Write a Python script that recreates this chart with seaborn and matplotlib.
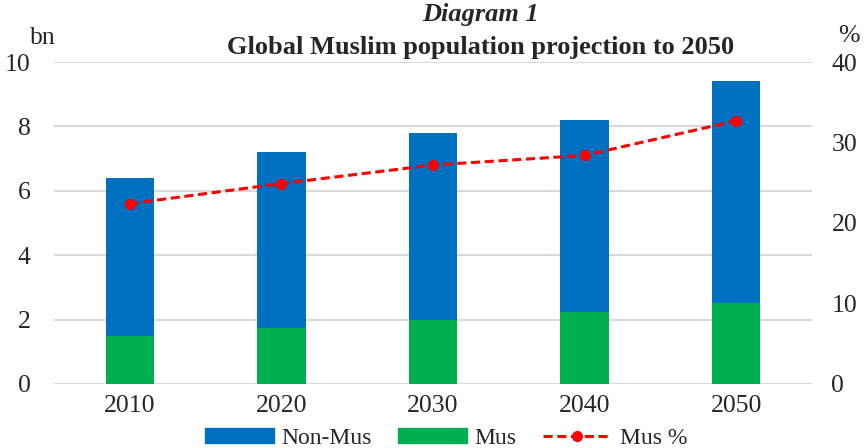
import pandas as pd
import matplotlib
matplotlib.use("Agg")
import matplotlib.pyplot as plt
import seaborn as sns
from matplotlib.patches import Patch
from matplotlib.lines import Line2D

# --- Data ---
years = ["2010", "2020", "2030", "2040", "2050"]
total_bn = [6.4, 7.2, 7.8, 8.2, 9.4]
mus_bn = [1.5, 1.75, 2.0, 2.25, 2.5]
mus_pct = [22.4, 24.9, 27.2, 28.4, 32.7]

BLUE = "#0070C0"
GREEN = "#00B050"
RED = "#FF0000"
GRID = "#D9D9D9"

sns.set_style("white")
plt.rcParams["font.family"] = ["Liberation Serif", "DejaVu Serif"]

df = pd.DataFrame({"year": years, "total": total_bn, "mus": mus_bn, "pct": mus_pct})

fig = plt.figure(figsize=(8.66, 4.48), dpi=100)
ax = fig.add_axes([0.0624, 0.1429, 0.8752, 0.7187])

# stacked look: total bar (blue) with Muslim share (green) drawn on top
sns.barplot(data=df, x="year", y="total", color=BLUE, width=0.32,
            saturation=1, linewidth=0, ax=ax, zorder=2)
sns.barplot(data=df, x="year", y="mus", color=GREEN, width=0.32,
            saturation=1, linewidth=0, ax=ax, zorder=3)

ax.set_ylim(0, 10)
ax.set_yticks([0, 2, 4, 6, 8, 10])
ax.set_xlim(-0.5, 4.5)
ax.yaxis.grid(True, color=GRID, linewidth=1.5)
ax.set_axisbelow(True)
for s in ax.spines.values():
    s.set_visible(False)
ax.set_xlabel("")
ax.set_ylabel("")
ax.tick_params(axis="x", length=0, labelsize=18.5, pad=8)
ax.tick_params(axis="y", length=0, labelsize=18.5, pad=17)

ax2 = ax.twinx()
ax2.plot(range(len(years)), mus_pct, color=RED, linestyle=(0, (3, 1.5)),
         linewidth=2.2, marker="o", markersize=7, zorder=5)
ax2.set_ylim(0, 40)
ax2.set_yticks([0, 10, 20, 30, 40])
for s in ax2.spines.values():
    s.set_visible(False)
ax2.tick_params(axis="y", length=0, labelsize=18.5, pad=14)

fig.text(0.555, 0.967, "Diagram 1", ha="center", va="center",
         fontsize=19, fontweight="bold", fontstyle="italic")
fig.text(0.555, 0.893, "Global Muslim population projection to 2050", ha="center",
         va="center", fontsize=19, fontweight="bold")
fig.text(0.05, 0.915, "bn", ha="center", va="center", fontsize=18.5)
fig.text(0.98, 0.92, "%", ha="center", va="center", fontsize=18.5)

handles = [
    Patch(facecolor=BLUE, edgecolor=BLUE),
    Patch(facecolor=GREEN, edgecolor=GREEN),
    Line2D([0], [0], color=RED, linestyle=(0, (3, 1.5)), linewidth=2.2,
           marker="o", markersize=7),
]
fig.legend(handles, ["Non-Mus", "Mus", "Mus %"], loc="center",
           bbox_to_anchor=(0.515, 0.022), ncol=3, frameon=False,
           fontsize=17, handlelength=2.9, handleheight=0.6,
           columnspacing=1.1, handletextpad=0.35)

fig.savefig("out.png", dpi=100)
